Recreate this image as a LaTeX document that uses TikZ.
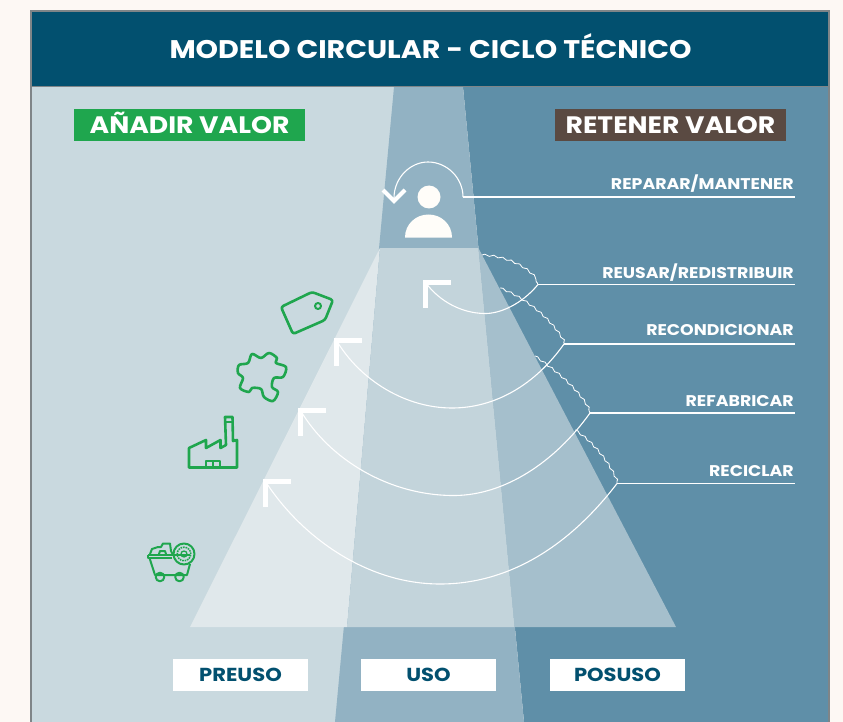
\documentclass[tikz,border=0pt]{standalone}
\usepackage{fontspec}
\setmainfont[FakeStretch=1.12]{Poppins}
\usetikzlibrary{decorations.pathmorphing}
\definecolor{pagebg}{HTML}{FDF8F4}
\definecolor{personwhite}{HTML}{FFFDF9}
\definecolor{headblue}{HTML}{02506F}
\definecolor{leftpanel}{HTML}{C9D9DF}
\definecolor{midpanel}{HTML}{92B2C3}
\definecolor{rightpanel}{HTML}{5F8FA8}
\definecolor{trileft}{HTML}{E0E8EB}
\definecolor{trimid}{HTML}{C3D4DB}
\definecolor{triright}{HTML}{A5BFCC}
\definecolor{framegray}{HTML}{7F8588}
\definecolor{iconGreen}{HTML}{1FA64E}
\definecolor{brownbox}{HTML}{5A4A42}
\tikzset{
  tagbox/.style={minimum width=231pt,minimum height=32pt,inner sep=0pt,text height=16.5pt,text depth=0pt,text=white,font=\bfseries\fontsize{23.8}{26}\selectfont},
  phasebox/.style={fill=white,minimum width=135pt,minimum height=32pt,inner sep=0pt,text height=13.3pt,text depth=0pt,text=headblue,font=\bfseries\fontsize{18.8}{20}\selectfont},
  loopname/.style={anchor=south east,inner sep=0pt,text=white,font=\bfseries\fontsize{15.5}{17}\selectfont},
  wline/.style={draw=white,line width=1.1pt},
  wave/.style={draw=white,line width=0.8pt,decorate,decoration={snake,segment length=9pt,amplitude=0.9pt}},
  corner/.style={draw=white,line width=5.5pt,line cap=butt,line join=miter},
  icon/.style={draw=iconGreen,line width=2.6pt,line join=round}
}
\begin{document}
\begin{tikzpicture}[x=1pt,y=-1pt]
\useasboundingbox (0,0) rectangle (843,722);
\fill[pagebg] (0,0) rectangle (843,722);
% panels
\fill[leftpanel] (31,87) rectangle (463,722);
\fill[rightpanel] (463,87) -- (829,87) -- (829,722) -- (524,722) -- cycle;
\fill[midpanel] (394,87) -- (463,87) -- (524,722) -- (335,722) -- cycle;
% trapezoid
\fill[trileft] (380,248) -- (190,627) -- (347,627) -- cycle;
\fill[trimid] (380,248) -- (478.4,248) -- (514.6,627) -- (347,627) -- cycle;
\fill[triright] (478.4,248) -- (676,627) -- (514.6,627) -- cycle;
% header
\fill[headblue] (31,11) rectangle (829,87);
\draw[framegray,line width=1pt] (31,87) -- (829,87);
\draw[framegray,line width=1.3pt] (31,722) -- (31,11) -- (829,11) -- (829,722);
\node[text=white,font=\bfseries\fontsize{25.5}{28}\selectfont,inner sep=0pt,text height=17.8pt,text depth=0pt] (title) at (430.5,49.5) {MODELO CIRCULAR - CICLO TÉCNICO};
% tags
\node[tagbox,fill=iconGreen] (addv) at (189.5,125) {AÑADIR VALOR};
\node[tagbox,fill=brownbox] (keepv) at (670.5,125) {RETENER VALOR};
% phases
\node[phasebox] (pre) at (240.5,675) {PREUSO};
\node[phasebox] (uso) at (428.5,675) {USO};
\node[phasebox] (pos) at (617.5,675) {POSUSO};
% line ends and junctions
\coordinate (e1) at (795,197);
\coordinate (e2) at (795,284.5);
\coordinate (e3) at (795,344);
\coordinate (e4) at (795,413);
\coordinate (e5) at (795,483.5);
\coordinate (j1) at (463,197);
\coordinate (j2) at (538,284.5);
\coordinate (j3) at (564,344);
\coordinate (j4) at (590,413);
\coordinate (j5) at (617,483.5);
\node[loopname] (l1) at (794,193) {REPARAR/MANTENER};
\node[loopname] (l2) at (794,281.5) {REUSAR/REDISTRIBUIR};
\node[loopname] (l3) at (794,336) {RECONDICIONAR};
\node[loopname] (l4) at (794,407) {REFABRICAR};
\node[loopname] (l5) at (794,477) {RECICLAR};
\draw[wline] (j1) -- (e1);
\draw[wline] (j2) -- (e2);
\draw[wline] (j3) -- (e3);
\draw[wline] (j4) -- (e4);
\draw[wline] (j5) -- (e5);
% waves
\coordinate (w2) at (482,255);
\coordinate (w3) at (500,288);
\coordinate (w4) at (535,356);
\coordinate (w5) at (575,430);
\path[wave] (w2) .. controls (505,256) and (530,268) .. (j2);
\path[wave] (w3) .. controls (525,298) and (552,320) .. (j3);
\path[wave] (w4) .. controls (555,370) and (580,390) .. (j4);
\path[wave] (w5) .. controls (590,440) and (608,460) .. (j5);
% arrow corners
\coordinate (c1) at (425.5,282.5);
\coordinate (c2) at (336.5,340.5);
\coordinate (c3) at (300.5,410.5);
\coordinate (c4) at (265.5,481.5);
\draw[wline] (j2) .. controls (522,304) and (500,314) .. (484,313.5) .. controls (462,313) and (440,302) .. (c1);
\draw[wline] (j3) .. controls (535,385) and (495,408) .. (452,408) .. controls (405,408) and (360,380) .. (c2);
\draw[wline] (j4) .. controls (555,462) and (505,495) .. (455,495.5) .. controls (390,496) and (330,460) .. (c3);
\draw[wline] (j5) .. controls (570,545) and (510,584) .. (440,584) .. controls (365,584) and (300,535) .. (c4);
\foreach \c in {c1,c2,c3,c4}
  \draw[corner] ([xshift=25pt]\c) -- (\c) -- ([yshift=-25pt]\c);
% repair loop
\coordinate (r1) at (394,198);
\draw[wline] (j1) .. controls (463,178) and (447,162) .. (428,162) .. controls (410,162) and (394,178) .. (r1);
\draw[white,line width=4.2pt,line join=miter] (383,190) -- (394,201) -- (405,190);
% person
\fill[personwhite] (429,197) circle (11.5pt);
\fill[personwhite] (405,237.5) .. controls (405,224) and (416,214.5) .. (428.5,214.5) .. controls (441,214.5) and (452,224) .. (452,237.5) -- cycle;
% tag icon
\draw[icon,rounded corners=2.5pt] (281,307) -- (312,292) -- (333,300) -- (325,320) -- (293,334) -- cycle;
\draw[icon,line width=2pt] (318,306) circle (3pt);
% puzzle icon
\draw[icon] plot[smooth cycle,tension=0.55] coordinates {(252,354) (261,358) (269,353) (277,358) (276,363) (286,367) (283,377) (274,378) (272,387) (278,392) (273,401) (264,397) (261,389) (252,388) (249,392) (240,388) (243,378) (238,373) (239,365) (248,363)};
% factory icon
\draw[icon] (189,467.5) -- (189,448) -- (206,440) -- (206,448) -- (220.5,440) -- (220.5,448) -- (226,445) -- (225,417) -- (232.5,417) -- (233,441) -- (237,440) -- (237,467.5) -- cycle;
\draw[icon,line width=1.9pt] (225.5,422) -- (232.5,422);
\draw[icon,line width=1.9pt] (206,467.5) -- (206,461) -- (220,461) -- (220,467.5) (213,461) -- (213,467.5);
% cart icon
\draw[icon,line width=2pt] (148,555) -- (190,555) (148,555) -- (148,558) -- (172,558);
\draw[icon,line width=2pt] (149.5,558) -- (155,575) -- (187,575) -- (190,564);
\draw[icon,line width=2pt] (160,577) circle (4.3pt);
\draw[icon,line width=2pt] (179.5,577) circle (4.3pt);
\draw[icon,line width=2pt] (150,554) -- (152,549) -- (158,547) -- (161,547) -- (163,543.5) -- (170,543.5) -- (171,551) -- (173,555);
\draw[icon,line width=2pt] (159,554) -- (160,551) -- (165,551) -- (166,554);
\draw[icon,line width=2pt] (184,554) circle (10.5pt);
\draw[icon,line width=1.5pt,dash pattern=on 1.6pt off 0.9pt] (184,554) circle (6.8pt);
\draw[icon,line width=1.3pt] (184,554) circle (3pt);
\end{tikzpicture}
\end{document}
